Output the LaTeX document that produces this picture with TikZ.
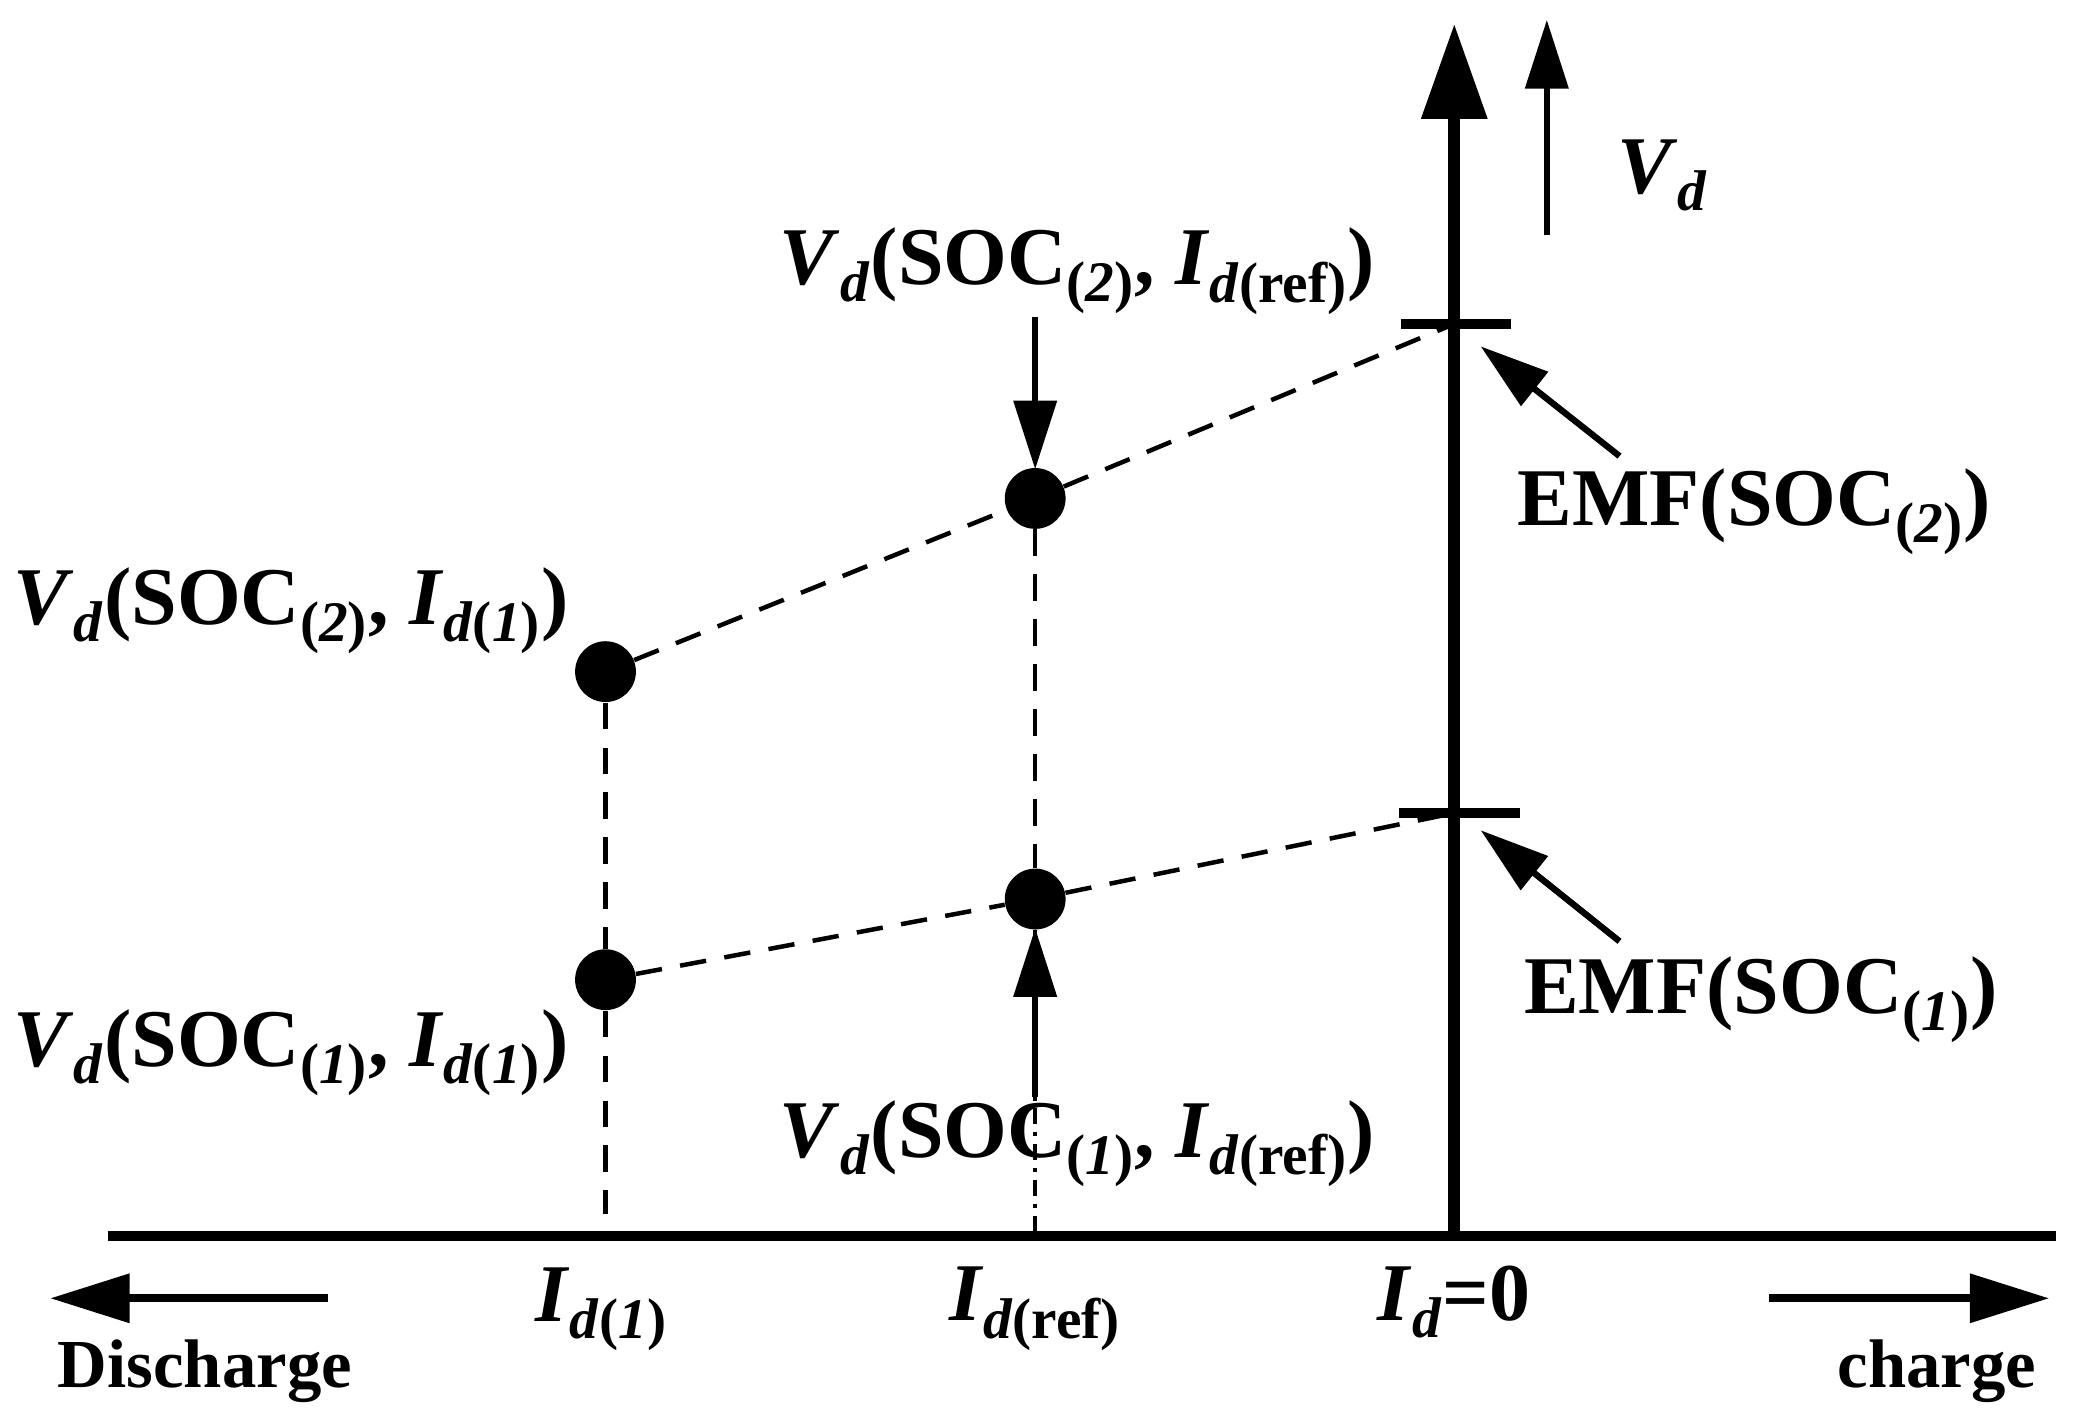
\documentclass[tikz,border=0pt]{standalone}
\usepackage{fontspec}
\setmainfont{Liberation Serif}
\usetikzlibrary{arrows.meta}
\newcommand{\sbs}[1]{\textsubscript{#1}}
\newcommand{\Vd}{\textit{V}\sbs{\textit{d}}}
\newcommand{\Id}{\textit{I}\sbs{\textit{d}}}
\begin{document}
\begin{tikzpicture}[x=0.5pt,y=-0.5pt,
  lbl/.style={font=\fontsize{31}{36}\bfseries\selectfont, inner sep=0pt},
  dot/.style={circle,fill=black,minimum size=23pt,inner sep=0pt},
  dsh/.style={line width=1.7pt,dash pattern=on 10pt off 7pt},
  arr/.style={line width=2.4pt,-{Triangle[length=26pt,width=16pt]}}]
\useasboundingbox (0,0) rectangle (1568,1073);
\coordinate (xl) at (82,935); \coordinate (xr) at (1555,935);
\draw[line width=4pt] (xl) -- (xr);
\coordinate (yb) at (1100,935); \coordinate (yt) at (1100,18);
\draw[line width=4.5pt,-{Triangle[length=36pt,width=24pt]}] (yb) -- (yt);
\coordinate (sa) at (1170,178); \coordinate (sb) at (1170,15);
\draw[arr] (sa) -- (sb);
\node[lbl] (vd) at (1258,133) {\Vd};
\coordinate (t2a) at (1060,245); \coordinate (t2b) at (1143,245);
\coordinate (t1a) at (1058,615); \coordinate (t1b) at (1150,615);
\draw[line width=4pt] (t2a) -- (t2b); \draw[line width=4pt] (t1a) -- (t1b);
\coordinate (e2) at (1100,245); \coordinate (e1) at (1100,615);
\node[dot] (a2) at (458,508) {}; \node[dot] (b2) at (783,377) {};
\node[dot] (a1) at (458,741) {}; \node[dot] (b1) at (783,680) {};
\coordinate (a0) at (458,918); \coordinate (b0) at (783,932);
\draw[dsh] (a2) -- (b2) -- (e2);
\draw[dsh] (a1) -- (b1) -- (e1);
\draw[dsh] (a2) -- (a1) -- (a0);
\draw[dsh] (b2) -- (b1);
\draw[line width=1.5pt,dash pattern=on 6pt off 3pt on 1.5pt off 3pt] (b1) -- (b0);
\coordinate (ar1) at (783,240); \coordinate (ar1e) at (783,355);
\draw[arr] (ar1) -- (ar1e);
\coordinate (ar2) at (783,830); \coordinate (ar2e) at (783,702);
\draw[arr] (ar2) -- (ar2e);
\coordinate (m2) at (1225,345); \coordinate (m2e) at (1120,262);
\coordinate (m1) at (1225,712); \coordinate (m1e) at (1120,628);
\draw[arr] (m2) -- (m2e); \draw[arr] (m1) -- (m1e);
\node[lbl] (l1) at (815,205) {\Vd(SOC\sbs{(\textit{2})}, \textit{I}\sbs{\textit{d}(ref)})};
\node[lbl] (l2) at (1327,387) {EMF(SOC\sbs{(\textit{2})})};
\node[lbl] (l3) at (220,462) {\Vd(SOC\sbs{(\textit{2})}, \textit{I}\sbs{\textit{d}(\textit{1})})};
\node[lbl] (l4) at (220,796) {\Vd(SOC\sbs{(\textit{1})}, \textit{I}\sbs{\textit{d}(\textit{1})})};
\node[lbl] (l5) at (1332,756) {EMF(SOC\sbs{(\textit{1})})};
\node[lbl] (l6) at (815,865) {\Vd(SOC\sbs{(\textit{1})}, \textit{I}\sbs{\textit{d}(ref)})};
\node[lbl] (l7) at (455,990) {\textit{I}\sbs{\textit{d}(\textit{1})}};
\node[lbl] (l8) at (783,990) {\textit{I}\sbs{\textit{d}(ref)}};
\node[lbl] (l9) at (1100,985) {\Id=0};
\coordinate (la) at (248,982); \coordinate (lae) at (38,982);
\coordinate (ra) at (1338,982); \coordinate (rae) at (1550,982);
\draw[line width=3pt,-{Triangle[length=30pt,width=18pt]}] (la) -- (lae);
\draw[line width=3pt,-{Triangle[length=30pt,width=18pt]}] (ra) -- (rae);
\node[lbl,font=\fontsize{26}{30}\bfseries\selectfont] (dc) at (155,1037) {Discharge};
\node[lbl,font=\fontsize{26}{30}\bfseries\selectfont] (ch) at (1465,1037) {charge};
\end{tikzpicture}
\end{document}
